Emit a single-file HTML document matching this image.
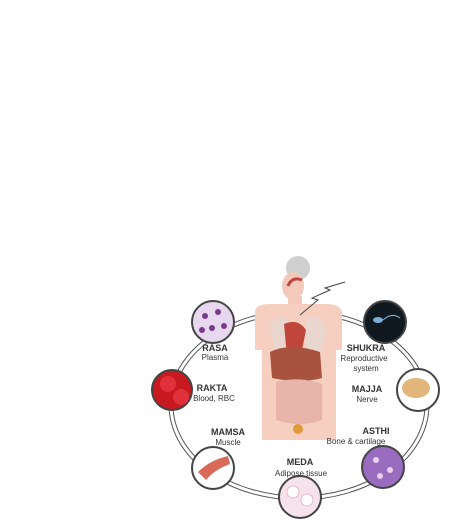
<!DOCTYPE html>
<html><head><meta charset="utf-8"><style>
html,body{margin:0;padding:0;background:#fff;width:456px;height:531px;overflow:hidden}
svg{display:block}
text{font-family:"Liberation Sans",sans-serif;fill:#333;text-anchor:middle}
.b{font-weight:bold;font-size:9px}
.s{font-size:8px}
</style></head><body>
<svg width="456" height="531" viewBox="0 0 456 531">
<g fill="none" stroke="#555">
<ellipse cx="299" cy="405" rx="130" ry="95" stroke-width="1"/>
<ellipse cx="299" cy="405" rx="126" ry="91" stroke-width="1"/>
</g>
<g>
<ellipse cx="298" cy="268" rx="12" ry="12" fill="#cfcfcf"/>
<ellipse cx="293" cy="286" rx="11" ry="14" fill="#f3c9bb"/>
<rect x="288" y="296" width="14" height="10" fill="#f3c9bb"/>
<path d="M255 312 Q255 304 270 304 L326 304 Q342 304 342 314 L342 350 L336 350 L336 440 L262 440 L262 350 L255 350 Z" fill="#f6cfc1"/>
<path d="M270 330 Q272 314 286 318 L290 350 L276 352 Z" fill="#e9d6cf"/>
<path d="M306 318 Q322 314 326 330 L322 352 L306 350 Z" fill="#e9d6cf"/>
<path d="M284 324 Q298 318 306 330 L302 350 Q290 356 286 346 Z" fill="#c0453a"/>
<path d="M270 352 Q290 342 320 352 L322 378 Q300 384 272 378 Z" fill="#a8533e"/>
<path d="M276 382 Q300 376 322 384 L322 420 Q300 428 276 420 Z" fill="#e8b3a8"/>
<circle cx="298" cy="429" r="5" fill="#e39a3a"/>
<path d="M288 286 Q292 276 302 280" stroke="#c0453a" stroke-width="3" fill="none"/>
<path d="M300 315 L318 300 L312 298 L330 290 L325 288 L345 282" stroke="#444" stroke-width="1" fill="none"/>
</g>
<g><circle cx="213" cy="322" r="21" fill="#e8d8ef" stroke="#444" stroke-width="2"/><circle cx="205" cy="316" r="3" fill="#7a3c8a"/><circle cx="218" cy="312" r="3" fill="#7a3c8a"/><circle cx="212" cy="328" r="3" fill="#7a3c8a"/><circle cx="224" cy="326" r="3" fill="#7a3c8a"/><circle cx="202" cy="330" r="3" fill="#7a3c8a"/></g>
<g><circle cx="385" cy="322" r="21" fill="#101820" stroke="#444" stroke-width="2"/><ellipse cx="378" cy="320" rx="5" ry="3" fill="#7ab0d8"/><path d="M383 320 Q392 312 400 318" stroke="#7ab0d8" fill="none"/></g>
<g><circle cx="172" cy="390" r="20" fill="#c81820" stroke="#444" stroke-width="2"/><circle cx="168" cy="384" r="8" fill="#e0303a"/><circle cx="181" cy="397" r="8" fill="#e0303a"/></g>
<g><circle cx="418" cy="390" r="21" fill="#fff" stroke="#444" stroke-width="2"/><ellipse cx="416" cy="388" rx="14" ry="10" fill="#e2b67a"/></g>
<g><circle cx="213" cy="468" r="21" fill="#fff" stroke="#444" stroke-width="2"/><path d="M198 472 Q210 460 228 456 L230 464 Q214 470 206 480 Z" fill="#d86a5a"/></g>
<g><circle cx="383" cy="467" r="21" fill="#9a6cc0" stroke="#444" stroke-width="2"/><circle cx="376" cy="460" r="3" fill="#e8d0f0"/><circle cx="390" cy="470" r="3" fill="#e8d0f0"/><circle cx="380" cy="476" r="3" fill="#e8d0f0"/></g>
<g><circle cx="300" cy="497" r="21" fill="#f6e2ea" stroke="#444" stroke-width="2"/><circle cx="293" cy="492" r="6" fill="#fff" stroke="#e8b8c8"/><circle cx="307" cy="500" r="6" fill="#fff" stroke="#e8b8c8"/></g>
<g>
<text class="b" x="215" y="351">RASA</text><text class="s" x="215" y="360">Plasma</text>
<text class="b" x="366" y="351">SHUKRA</text><text class="s" x="364" y="361">Reproductive</text><text class="s" x="366" y="371">system</text>
<text class="b" x="212" y="391">RAKTA</text><text class="s" x="214" y="401">Blood, RBC</text>
<text class="b" x="367" y="392">MAJJA</text><text class="s" x="367" y="402">Nerve</text>
<text class="b" x="228" y="435">MAMSA</text><text class="s" x="228" y="445">Muscle</text>
<text class="b" x="376" y="434">ASTHI</text><text class="s" x="356" y="444">Bone &amp; cartilage</text>
<text class="b" x="300" y="465">MEDA</text><text class="s" x="301" y="476">Adipose tissue</text>
</g>
</svg>
</body></html>
